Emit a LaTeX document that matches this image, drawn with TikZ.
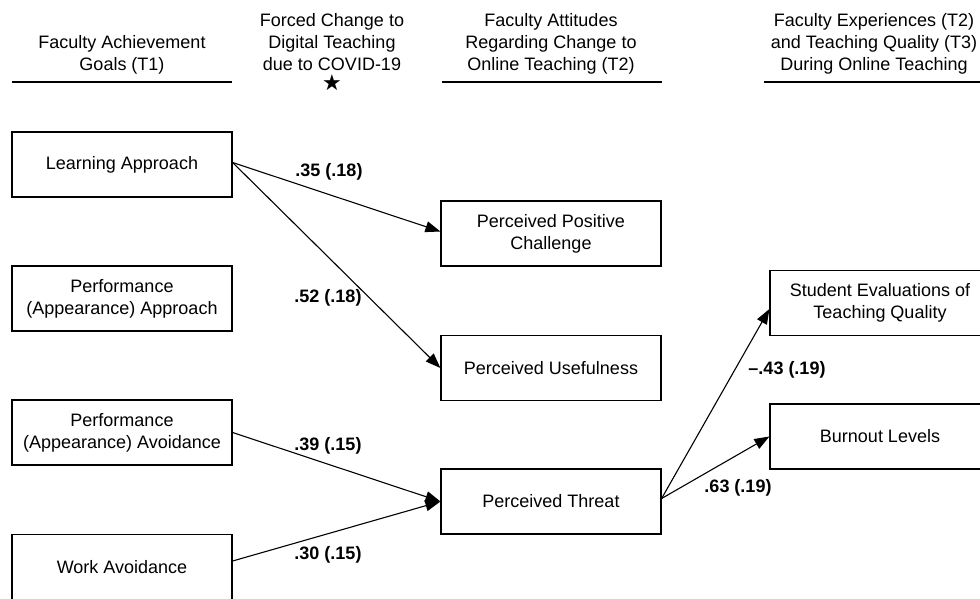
\documentclass[tikz,border=0pt]{standalone}
\usepackage{fontspec}
\setmainfont{Liberation Sans}
\newfontfamily\symfont{DejaVu Sans}
\usetikzlibrary{arrows.meta}
\begin{document}
\begin{tikzpicture}[x=1pt,y=-1pt,
  box/.style={draw, line width=1.2pt, minimum width=220pt, minimum height=65pt, inner sep=2pt, align=center, font=\fontsize{18}{22}\selectfont},
  hdr/.style={anchor=north, align=center, inner sep=0pt, font=\fontsize{18}{22}\selectfont},
  rulel/.style={line width=1.2pt},
  arr/.style={line width=1.1pt, -{Triangle[length=15pt,width=11pt]}},
  lbl/.style={font=\bfseries\fontsize{18}{22}\selectfont, inner sep=0pt}
]
\clip (0,0) rectangle (980,598);
\fill[white] (0,0) rectangle (980,598);

% headers
\node[hdr] (h1) at (122,35) {Faculty Achievement\\Goals (T1)};
\node[hdr] (h2) at (332,13) {Forced Change to\\Digital Teaching\\due to COVID-19};
\node[hdr] (h3) at (551,13) {Faculty Attitudes\\Regarding Change to\\Online Teaching (T2)};
\node[hdr] (h4) at (874,13) {Faculty Experiences (T2)\\and Teaching Quality (T3)\\During Online Teaching};
\node[inner sep=0pt, font=\symfont\fontsize{22}{22}\selectfont] (star) at (332,83) {★};

\coordinate (u1a) at (12,82);  \coordinate (u1b) at (232,82);
\coordinate (u3a) at (442,82); \coordinate (u3b) at (662,82);
\coordinate (u4a) at (764,82); \coordinate (u4b) at (980,82);
\draw[rulel] (u1a) -- (u1b);
\draw[rulel] (u3a) -- (u3b);
\draw[rulel] (u4a) -- (u4b);

% boxes
\node[box] (LA)   at (122,164.5) {Learning Approach};
\node[box] (PAAp) at (122,298.5) {Performance\\(Appearance) Approach};
\node[box] (PAAv) at (122,432.5) {Performance\\(Appearance) Avoidance};
\node[box] (WA)   at (122,567)   {Work Avoidance};
\node[box] (PPC)  at (551,233.5) {Perceived Positive\\Challenge};
\node[box] (PU)   at (551,368)   {Perceived Usefulness};
\node[box] (PT)   at (551,501.5) {Perceived Threat};
\node[box] (SE)   at (880,303)   {Student Evaluations of\\Teaching Quality};
\node[box] (BL)   at (880,436.5) {Burnout Levels};

% arrows
\draw[arr] ([yshift=2pt]LA.east) -- ([yshift=2pt]PPC.west);
\draw[arr] ([yshift=2pt]LA.east) -- (PU.west);
\draw[arr] (PAAv.east) -- (PT.west);
\draw[arr] ([yshift=6pt]WA.east) -- (PT.west);
\draw[arr] ([yshift=3pt]PT.east) -- ([yshift=-6pt]SE.west);
\draw[arr] ([yshift=3pt]PT.east) -- (BL.west);

% labels
\node[lbl] (l1) at (329,172) {.35 (.18)};
\node[lbl] (l2) at (328,298) {.52 (.18)};
\node[lbl] (l3) at (328,446) {.39 (.15)};
\node[lbl] (l4) at (328,555) {.30 (.15)};
\node[lbl] (l5) at (787,370) {\textendash.43 (.19)};
\node[lbl] (l6) at (738,488) {.63 (.19)};
\end{tikzpicture}
\end{document}
